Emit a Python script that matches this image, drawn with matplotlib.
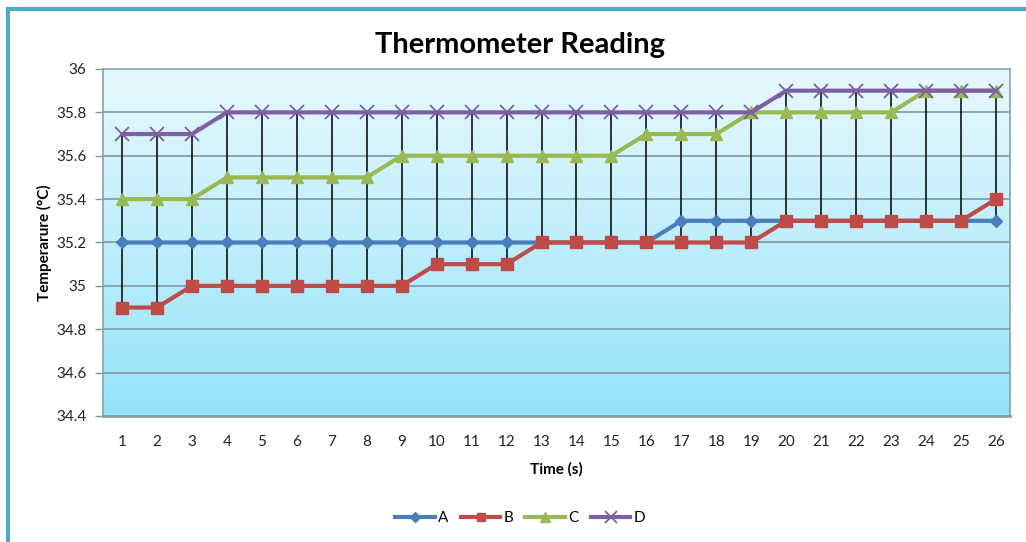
import matplotlib
matplotlib.use("Agg")
import matplotlib.pyplot as plt
import numpy as np
from matplotlib.patches import Rectangle

plt.rcParams["font.family"] = ["Lato", "DejaVu Sans"]

# Data
time_s = list(range(1, 27))
series_a = [35.2] * 16 + [35.3] * 10
series_b = [34.9, 34.9] + [35.0] * 7 + [35.1] * 3 + [35.2] * 7 + [35.3] * 6 + [35.4]
series_c = [35.4] * 3 + [35.5] * 5 + [35.6] * 7 + [35.7] * 3 + [35.8] * 5 + [35.9] * 3
series_d = [35.7] * 3 + [35.8] * 16 + [35.9] * 7
y_ticks = [34.4, 34.6, 34.8, 35.0, 35.2, 35.4, 35.6, 35.8, 36.0]
y_tick_labels = ["34.4", "34.6", "34.8", "35", "35.2", "35.4", "35.6", "35.8", "36"]

fig = plt.figure(figsize=(10.26, 5.42), dpi=100)
fig.patch.set_facecolor("white")
ax = fig.add_axes([0.1004, 0.2325, 0.884, 0.6402])

# gradient plot background, pale at top to cyan at bottom
top = np.array([0.91, 0.975, 0.99])
bottom = np.array([0.58, 0.89, 0.98])
t = np.linspace(0, 1, 256)[:, None]
grad = top + (bottom - top) * t
ax.imshow(grad[:, None, :], extent=[0, 1, 0, 1], transform=ax.transAxes,
          aspect="auto", zorder=0)

for yv in y_ticks[1:-1]:
    ax.axhline(yv, color="#7f97a3", lw=1.2, zorder=1)

all_vals = np.array([series_a, series_b, series_c, series_d])
ax.vlines(time_s, all_vals.min(axis=0), all_vals.max(axis=0),
          color="black", lw=1.1, zorder=2)

ax.plot(time_s, series_a, color="#4a7ebb", lw=3, marker="D", ms=6,
        label="A", zorder=3)
ax.plot(time_s, series_b, color="#be4b48", lw=3, marker="s", ms=8,
        label="B", zorder=3)
ax.plot(time_s, series_c, color="#98b954", lw=3, marker="^", ms=9,
        label="C", zorder=3)
ax.plot(time_s, series_d, color="#7d60a0", lw=3, marker="x", ms=10,
        mew=1.3, label="D", zorder=4)

ax.set_xlim(0.456, 26.40)
ax.set_ylim(34.4, 36.0)
ax.set_yticks(y_ticks)
ax.set_yticklabels(y_tick_labels)
ax.set_xticks(time_s)
ax.tick_params(axis="x", length=0, pad=14, labelsize=11, colors="#222222")
ax.tick_params(axis="y", length=6, width=1, color="#7f97a3", pad=6,
               labelsize=11, colors="#222222")
for side in ["left", "bottom", "top", "right"]:
    ax.spines[side].set_color("#8aa0aa")
    ax.spines[side].set_linewidth(1.2)
ax.spines["bottom"].set_linewidth(2)
ax.spines["bottom"].set_color("#8d9aa0")

fig.text(0.507, 0.917, "Thermometer Reading", fontsize=21, fontweight="bold",
         ha="center", va="center")
ax.set_xlabel("Time (s)", fontsize=11, fontweight="bold", labelpad=9)
ax.set_ylabel("Temperarure (°C)", fontsize=11, fontweight="bold", labelpad=3)

fig.legend(loc="center", bbox_to_anchor=(0.507, 0.044), ncol=4, frameon=False,
           fontsize=11, handlelength=2.6, numpoints=1, columnspacing=0.8,
           handletextpad=0.2, markerscale=0.8)

# outer frame of the chart
fig.patches.append(Rectangle((8 / 1026, -0.05), 1.1, 1 - 9 / 542 + 0.05,
                             transform=fig.transFigure, fill=False,
                             edgecolor="#4bacc6", lw=3))

fig.savefig("out.png", dpi=100)
